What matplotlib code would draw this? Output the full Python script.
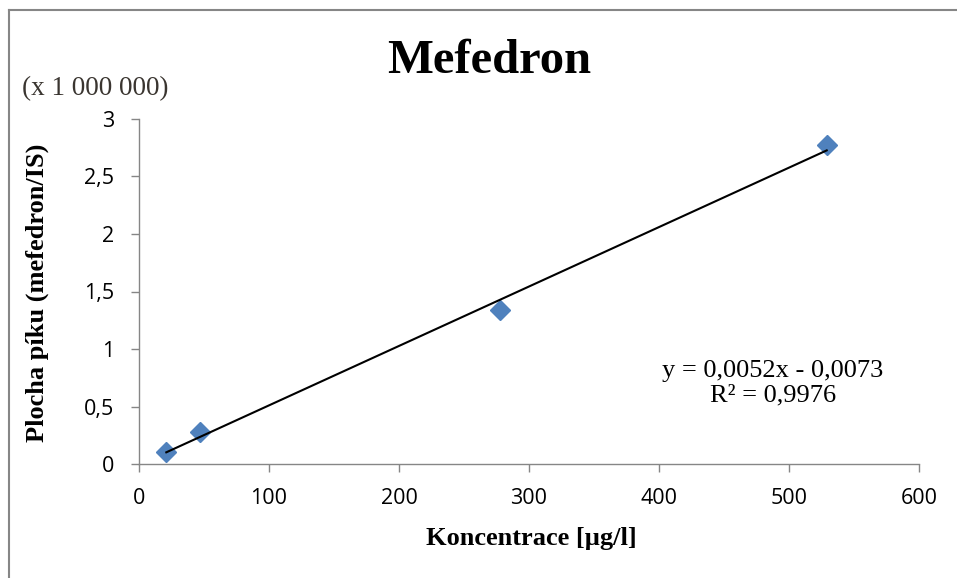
import numpy as np
import matplotlib
matplotlib.use("Agg")
import matplotlib.pyplot as plt
from matplotlib.lines import Line2D

# data (y in millions)
konc = [21, 47, 278, 529]
plocha = [0.104, 0.28, 1.34, 2.77]
xticks = [0, 100, 200, 300, 400, 500, 600]
yticks = [0, 0.5, 1, 1.5, 2, 2.5, 3]
ytick_labels = ["0", "0,5", "1", "1,5", "2", "2,5", "3"]
eq_text = "y = 0,0052x - 0,0073\nR² = 0,9976"

serif = "Liberation Serif"
sans = "Open Sans"
grey = "#868686"
W, H = 957, 578

fig = plt.figure(figsize=(W/100, H/100), dpi=100)
ax = fig.add_axes([139/W, 114/H, 780/W, 345/H])

ax.plot(konc, plocha, linestyle="none", marker="D", ms=10, color="#4F81BD", zorder=2)

k, q = np.polyfit(konc, plocha, 1)
xs = np.array([konc[0], konc[-1]])
ax.plot(xs, k*xs + q, color="black", lw=1.5, zorder=3)

ax.set_xlim(0, 600)
ax.set_ylim(0, 3)
ax.set_xticks(xticks)
ax.set_xticklabels([str(t) for t in xticks], family=sans, fontsize=15.5)
ax.set_yticks(yticks)
ax.set_yticklabels(ytick_labels, family=sans, fontsize=15.5)
for s in ["top", "right"]:
    ax.spines[s].set_visible(False)
for s in ["left", "bottom"]:
    ax.spines[s].set_color(grey)
    ax.spines[s].set_linewidth(1)
ax.tick_params(direction="out", length=6, width=1, color=grey)
ax.tick_params(axis="x", pad=11)
ax.tick_params(axis="y", pad=12)

# axis titles
fig.text(531/W, 1 - 538/H, "Koncentrace [µg/l]", ha="center", va="center",
         family=serif, fontweight="bold", fontsize=19)
fig.text(37/W, 1 - 293/H, "Plocha píku (mefedron/IS)", ha="center", va="center",
         rotation=90, family=serif, fontweight="bold", fontsize=19)

# trendline equation
fig.text(773/W, 1 - 383/H, eq_text, ha="center", va="center",
         family=serif, fontsize=19, linespacing=1.12)

fig.text(489/W, 1 - 61/H, "Mefedron", ha="center", va="center",
         family=serif, fontweight="bold", fontsize=35)
fig.text(22/W, 1 - 89/H, "(x 1 000 000)", ha="left", va="center",
         family=serif, fontsize=19.5, color="#3a3530")

# chart area border (left and top edges visible)
fig.add_artist(Line2D([8.5/W, 8.5/W], [0, 1 - 9.5/H], transform=fig.transFigure,
                      color=grey, lw=1.5))
fig.add_artist(Line2D([8.5/W, 1], [1 - 9.5/H, 1 - 9.5/H], transform=fig.transFigure,
                      color=grey, lw=1.5))

fig.savefig("out.png", dpi=100)
